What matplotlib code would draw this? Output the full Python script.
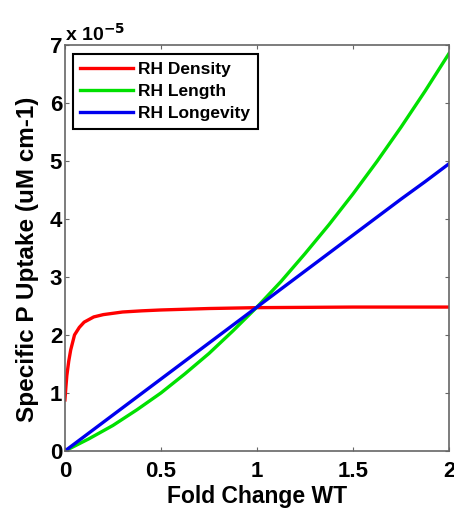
import matplotlib
matplotlib.use("Agg")
import matplotlib.pyplot as plt

plt.rcParams['font.family'] = ['Liberation Sans', 'DejaVu Sans']
plt.rcParams['font.weight'] = 'bold'

# Fold change relative to wild type
fold_density = [0, 0.005, 0.01, 0.02, 0.03, 0.05, 0.075, 0.1, 0.15, 0.2, 0.3,
                0.4, 0.5, 0.6, 0.75, 1.0, 1.5, 2.0]
fold = [0, 0.125, 0.25, 0.375, 0.5, 0.625, 0.75, 0.875, 1.0,
        1.125, 1.25, 1.375, 1.5, 1.625, 1.75, 1.875, 2.0]

# Specific P uptake (x 1e-5 uM cm-1)
uptake_density = [0.88, 1.10, 1.30, 1.55, 1.74, 2.00, 2.13, 2.22, 2.31, 2.35,
                  2.395, 2.415, 2.43, 2.44, 2.455, 2.47, 2.48, 2.48]
uptake_length = [0, 0.21, 0.44, 0.71, 1.00, 1.33, 1.68, 2.07, 2.48,
                 2.92, 3.40, 3.90, 4.43, 4.99, 5.58, 6.20, 6.85]
uptake_longevity = [0, 0.31, 0.62, 0.93, 1.24, 1.55, 1.86, 2.17, 2.48,
                    2.79, 3.10, 3.41, 3.72, 4.03, 4.34, 4.64, 4.95]

xticks = [0, 0.5, 1, 1.5, 2]
xtick_labels = ['0', '0.5', '1', '1.5', '2']

fig = plt.figure(figsize=(4.54, 5.09), dpi=100)
ax = fig.add_axes([0.143, 0.114, 0.846, 0.798])

ax.plot(fold_density, uptake_density, color='#ff0000', lw=2.4, label='RH Density')
ax.plot(fold, uptake_length, color='#00e000', lw=2.4, label='RH Length')
ax.plot(fold, uptake_longevity, color='#0000ee', lw=2.4, label='RH Longevity')

ax.set_xlim(0, 2)
ax.set_ylim(0, 7)
ax.set_xticks(xticks)
ax.set_xticklabels(xtick_labels)
ax.set_yticks(range(8))
ax.tick_params(direction='in', length=3, width=0.8, labelsize=16,
               top=True, right=True, color='#666666', pad=2)
ax.tick_params(axis='x', pad=7)
for s in ax.spines.values():
    s.set_color('#666666')
    s.set_linewidth(1.2)

ax.set_xlabel('Fold Change WT', fontsize=16.5, fontweight='bold', labelpad=2.5)
ax.set_ylabel('Specific P Uptake (uM cm-1)', fontsize=17.5, fontweight='bold')
ax.yaxis.set_label_coords(-0.068, 0.473)
ax.text(0.0, 1.0, r'x 10$^{-5}$', transform=ax.transAxes, fontsize=14,
        fontweight='bold', va='bottom', ha='left')

leg = ax.legend(loc='upper left', fontsize=12.5, handlelength=3.05,
                fancybox=False, framealpha=1, borderpad=0.45,
                labelspacing=0.4, handletextpad=0.25, borderaxespad=0,
                bbox_to_anchor=(0.02, 0.978))
leg.get_frame().set_edgecolor('black')
leg.get_frame().set_linewidth(1.5)

fig.savefig('out.png', dpi=100)
